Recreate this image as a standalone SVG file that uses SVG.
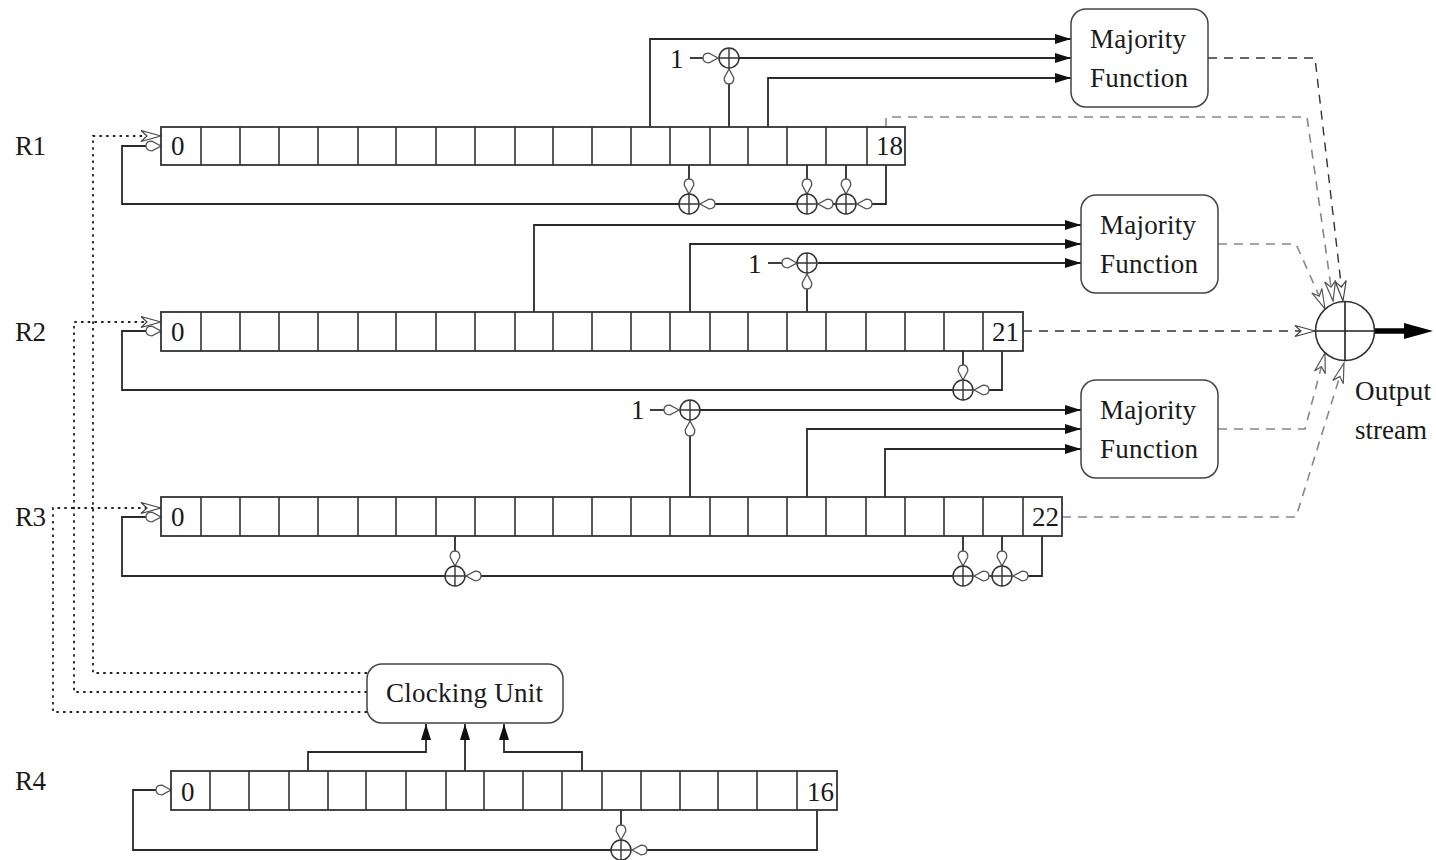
<svg xmlns="http://www.w3.org/2000/svg" width="1436" height="860" viewBox="0 0 1436 860">
<style>
text{font-family:"Liberation Serif","Times New Roman",serif;font-size:27px;fill:#1a1a1a}
.reg{fill:#fff;stroke:#333;stroke-width:1.8}
.div{fill:none;stroke:#333;stroke-width:1.6}
.box{fill:#fff;stroke:#444;stroke-width:1.5}
.s{fill:none;stroke:#2a2a2a;stroke-width:1.8}
.t{marker-end:url(#tear)}
.a{marker-end:url(#solid)}
.d{fill:none;stroke:#222;stroke-width:1.8;stroke-dasharray:2.5 4.2}
.k{fill:none;stroke:#333;stroke-width:1.4;stroke-dasharray:9 7;marker-end:url(#open)}
.g{fill:none;stroke:#888;stroke-width:1.6;stroke-dasharray:9 7;marker-end:url(#openg)}
.x{fill:#fff;stroke:#333;stroke-width:1.5}
</style>
<defs>
<marker id="tear" markerUnits="userSpaceOnUse" markerWidth="20" markerHeight="14" viewBox="-17 -7 20 14" refX="0" refY="0" orient="auto"><path d="M0 0L-9 -4.8Q-15 -4.8 -15 0Q-15 4.8 -9 4.8Z" fill="#fff" stroke="#555" stroke-width="1.3"/></marker>
<marker id="solid" markerUnits="userSpaceOnUse" markerWidth="20" markerHeight="14" viewBox="-18 -7 20 14" refX="0" refY="0" orient="auto"><path d="M0 0L-16 -5L-16 5Z" fill="#111"/></marker>
<marker id="open" markerUnits="userSpaceOnUse" markerWidth="24" markerHeight="16" viewBox="-22 -8 24 16" refX="0" refY="0" orient="auto"><path d="M0 0L-20 -5.5L-14 0L-20 5.5Z" fill="#fff" stroke="#444" stroke-width="1.2"/></marker>
<marker id="openg" markerUnits="userSpaceOnUse" markerWidth="24" markerHeight="16" viewBox="-22 -8 24 16" refX="0" refY="0" orient="auto"><path d="M0 0L-20 -5.5L-14 0L-20 5.5Z" fill="#fff" stroke="#555" stroke-width="1.2"/></marker>
<g id="xor"><circle r="10" class="x"/><path d="M-10 0H10M0 -10V10" stroke="#333" stroke-width="1.4" fill="none"/></g>
</defs>

<g id="connectors">
<path class="s a" d="M650 127V39H1071"/>
<path class="s a" d="M739 58H1071"/>
<path class="s a" d="M768 127V78H1071"/>
<path class="s t" d="M690 58H718"/>
<path class="s t" d="M729 127V69"/>
<path class="s t" d="M886 165V204H857"/>
<path class="s t" d="M836 204H818"/>
<path class="s t" d="M797 204H700"/>
<path class="s t" d="M846 165V194"/>
<path class="s t" d="M807 165V194"/>
<path class="s t" d="M689 165V194"/>
<path class="s t" d="M679 204H122V146H161"/>
<path class="s a" d="M534 312V225H1081"/>
<path class="s a" d="M690 312V244H1081"/>
<path class="s a" d="M818 263H1081"/>
<path class="s t" d="M768 263H797"/>
<path class="s t" d="M807 312V274"/>
<path class="s t" d="M1002 351V390H974"/>
<path class="s t" d="M963 351V380"/>
<path class="s t" d="M953 390H122V331H161"/>
<path class="s a" d="M700 410H1081"/>
<path class="s a" d="M807 497V429H1081"/>
<path class="s a" d="M885 497V449H1081"/>
<path class="s t" d="M650 410H679"/>
<path class="s t" d="M690 497V421"/>
<path class="s t" d="M1042 536V576H1013"/>
<path class="s t" d="M992 576H974"/>
<path class="s t" d="M953 576H466"/>
<path class="s t" d="M1002 536V566"/>
<path class="s t" d="M963 536V566"/>
<path class="s t" d="M455 536V566"/>
<path class="s t" d="M445 576H122V517H161"/>
<path class="s a" d="M308 771V752H426V724"/>
<path class="s a" d="M465 771V724"/>
<path class="s a" d="M582 771V752H504V724"/>
<path class="s t" d="M817 810V850H632"/>
<path class="s t" d="M621 810V840"/>
<path class="s t" d="M611 850H133V790H171"/>
<path class="d" style="marker-end:url(#open)" d="M367 673H93V136H161"/>
<path class="d" style="marker-end:url(#open)" d="M367 692H74V322H161"/>
<path class="d" style="marker-end:url(#open)" d="M367 712H53V508H161"/>
<path class="k" d="M1208 58H1315L1343 301"/>
<path class="g" d="M886 127V117H1307L1333 301"/>
<path class="g" d="M1218 244H1296L1325 309"/>
<path class="k" d="M1023 331H1315"/>
<path class="g" d="M1218 429H1305L1325 353"/>
<path class="g" d="M1062 517H1296L1344 363"/>
<path d="M1375 331H1406" stroke="#000" stroke-width="5.5" fill="none"/>
<path d="M1404 323L1433 331L1404 339Z" fill="#000"/>
</g>

<g id="r1"><rect class="reg" x="161" y="127" width="744" height="38"/>
<path class="div" d="M201 127v38M240 127v38M279 127v38M318 127v38M358 127v38M396 127v38M436 127v38M475 127v38M515 127v38M553 127v38M592 127v38M631 127v38M670 127v38M710 127v38M748 127v38M787 127v38M826 127v38M867 127v38"/>
<text x="171" y="155">0</text><text x="876" y="155" textLength="27">18</text></g>
<g id="r2"><rect class="reg" x="161" y="312" width="862" height="39"/>
<path class="div" d="M201 312v39M240 312v39M279 312v39M318 312v39M358 312v39M396 312v39M436 312v39M475 312v39M515 312v39M553 312v39M592 312v39M631 312v39M670 312v39M710 312v39M748 312v39M787 312v39M826 312v39M866 312v39M905 312v39M944 312v39M983 312v39"/>
<text x="171" y="341">0</text><text x="992" y="341" textLength="27">21</text></g>
<g id="r3"><rect class="reg" x="161" y="497" width="901" height="39"/>
<path class="div" d="M201 497v39M240 497v39M279 497v39M318 497v39M358 497v39M396 497v39M436 497v39M475 497v39M515 497v39M553 497v39M592 497v39M631 497v39M670 497v39M710 497v39M748 497v39M787 497v39M826 497v39M866 497v39M905 497v39M944 497v39M983 497v39M1023 497v39"/>
<text x="171" y="526">0</text><text x="1032" y="526" textLength="27">22</text></g>
<g id="r4"><rect class="reg" x="171" y="771" width="666" height="39"/>
<path class="div" d="M210 771v39M249 771v39M289 771v39M328 771v39M366 771v39M406 771v39M446 771v39M484 771v39M523 771v39M562 771v39M602 771v39M641 771v39M680 771v39M718 771v39M757 771v39M797 771v39"/>
<text x="181" y="801">0</text><text x="807" y="801" textLength="27">16</text></g>

<g id="labels">
<text x="15" y="155" textLength="31">R1</text>
<text x="15" y="341" textLength="31">R2</text>
<text x="15" y="526" textLength="31">R3</text>
<text x="15" y="790" textLength="31">R4</text>
<text x="670" y="68">1</text>
<text x="748" y="273">1</text>
<text x="631" y="419">1</text>
</g>

<g id="maj1"><rect class="box" x="1071" y="9" width="137" height="98" rx="15"/>
<text x="1090" y="48" textLength="96">Majority</text><text x="1090" y="87" textLength="98">Function</text></g>
<g id="maj2"><rect class="box" x="1081" y="195" width="137" height="98" rx="15"/>
<text x="1100" y="234" textLength="96">Majority</text><text x="1100" y="273" textLength="98">Function</text></g>
<g id="maj3"><rect class="box" x="1081" y="380" width="137" height="98" rx="15"/>
<text x="1100" y="419" textLength="96">Majority</text><text x="1100" y="458" textLength="98">Function</text></g>
<g id="clock"><rect class="box" x="367" y="664" width="196" height="59" rx="15"/>
<text x="386" y="702" textLength="157">Clocking Unit</text></g>

<g id="xors">
<use href="#xor" x="729" y="58"/><use href="#xor" x="689" y="204"/><use href="#xor" x="807" y="204"/><use href="#xor" x="846" y="204"/>
<use href="#xor" x="807" y="263"/><use href="#xor" x="963" y="390"/>
<use href="#xor" x="690" y="410"/><use href="#xor" x="455" y="576"/><use href="#xor" x="963" y="576"/><use href="#xor" x="1002" y="576"/>
<use href="#xor" x="621" y="850"/>
</g>

<g id="output"><circle cx="1345" cy="331" r="29.5" fill="#fff" stroke="#333" stroke-width="1.6"/>
<path d="M1316 331H1375M1345 302V361" stroke="#222" stroke-width="1.6" fill="none"/>
<text x="1355" y="400" textLength="76">Output</text><text x="1355" y="439" textLength="72">stream</text></g>
</svg>
